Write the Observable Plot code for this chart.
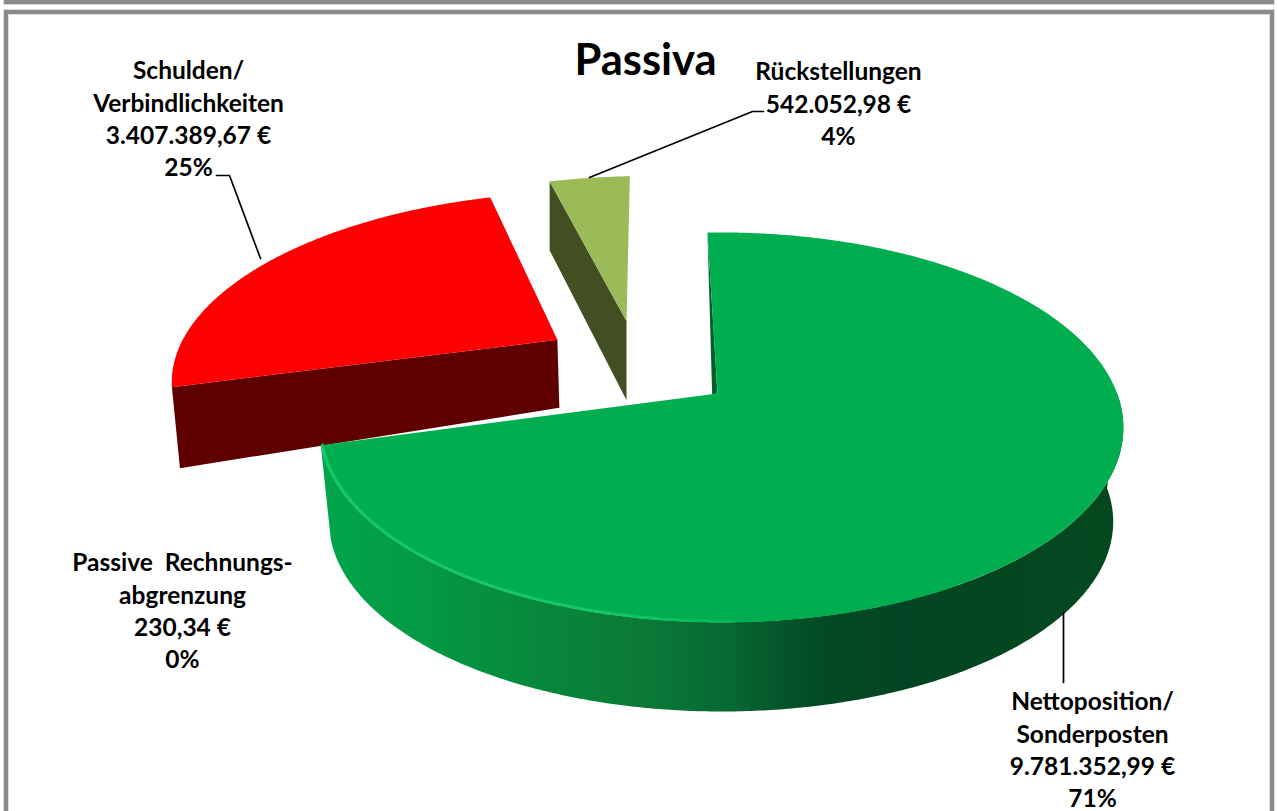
<!DOCTYPE html>
<html lang="de">
<head>
<meta charset="utf-8">
<style>html,body{margin:0;padding:0;background:#fff;overflow:hidden}</style>
<script src="https://cdn.jsdelivr.net/npm/d3@7"></script>
<script src="https://cdn.jsdelivr.net/npm/@observablehq/plot@0.6"></script>
</head>
<body>
<div id="chart"></div>
<script>
// ---- data, in pie order (clockwise from the top)
const names = ["Nettoposition/\nSonderposten", "Passive\u00a0 Rechnungs-\nabgrenzung", "Schulden/\nVerbindlichkeiten", "Rückstellungen"];
const amounts = [9781352.99, 230.34, 3407389.67, 542052.98];
const titleText = "Passiva";

// ---- styles
const topColors = ["#00ae50", "#00ae50", "#ff0000", "#9bbb59"];
const sideColors = ["url(#greenSide)", "#00602d", "#5f0000", "#414f22"];
const sideStops = [[0, "#00a64c"], [0.12, "#049a44"], [0.27, "#07883c"], [0.4, "#0a7a37"], [0.5, "#066a33"], [0.62, "#034a25"], [0.72, "#034522"], [1, "#03491f"]];

// ---- perspective of the tilted disc
const view = {cx: 717, cy: 393, rx: 396, ry: 189, k: 0.1736, h: -0.0091, start: -1.7};
const explode = [[0, 0], [0, 0], [-0.427, 0.3], [-0.2466, 0.41]];
const radius = [1, 1, 1.012, 1.03];
// wall offsets [apex, rim] for the two exploded wedges
const walls = {2: [[2, 68], [8, 81]], 3: [[0, 79], [0, 69]]};
const greenWall = {scale: 0.975, drop: 95};

function project(u, v) {
  const w = 1 + view.k * v + view.h * u;
  return {x: view.cx + view.rx * u / w, y: view.cy - view.ry * v / w};
}
const rad = (d) => d * Math.PI / 180;
const total = d3.sum(amounts);
let acc = view.start;
const wedges = amounts.map((a, i) => {
  const a0 = acc, a1 = acc + a / total * 360;
  acc = a1;
  return {i, a0, a1};
});
function rim(w, a0, a1, f = 1) {
  const [du, dv] = explode[w.i];
  const r = radius[w.i] * f;
  const n = Math.max(2, Math.ceil(Math.abs(a1 - a0) * 2));
  return d3.range(n + 1).map((j) => {
    const a = rad(a0 + (a1 - a0) * j / n);
    return project(du + r * Math.sin(a), dv + r * Math.cos(a));
  });
}
const apex = (w) => project(...explode[w.i]);

const [green, , red, olive] = wedges;

// green: wall along the front of the rim, gradient-filled
const dropPoint = (p) => ({x: view.cx + (p.x - view.cx) * greenWall.scale, y: view.cy + (p.y - view.cy) * greenWall.scale + greenWall.drop});
const greenFront = rim(green, 90, green.a1);
const greenWallPts = [...greenFront, ...greenFront.slice().reverse().map(dropPoint)];
const greenTop = [apex(green), ...rim(green, green.a0, green.a1)];
const greenEnd = greenFront[greenFront.length - 1];
const greenA = apex(green);
const greenSliver = [rim(green, green.a0, green.a0 + 1)[0], greenA, {x: greenA.x + (greenEnd.x - greenA.x) * 0.0135, y: greenA.y + (greenEnd.y - greenA.y) * 0.0135}];
const greenHighlight = rim(green, green.a1, 150, 0.996);

function wedgeTop(w) { return [apex(w), ...rim(w, w.a0, w.a1)]; }
function wedgeWall(w, rimPoint) {
  const a = apex(w), [oa, or] = walls[w.i];
  return [a, rimPoint, {x: rimPoint.x + or[0], y: rimPoint.y + or[1]}, {x: a.x + oa[0], y: a.y + oa[1]}];
}
const redWall = wedgeWall(red, rim(red, red.a0, red.a0 + 1)[0]);
const oliveWall = wedgeWall(olive, rim(olive, olive.a0, olive.a0 + 1)[0]);

// ---- annotations
const fmt = (v) => v.toLocaleString("de-DE", {minimumFractionDigits: 2, maximumFractionDigits: 2}) + " €";
const labelText = (i) => `${names[i]}\n${fmt(amounts[i])}\n${Math.round(amounts[i] / total * 100)}%`;
const labelX = [1092, 182, 188, 838];
const labelY = [687, 548, 56, 57];
const labels = amounts.map((_, i) => ({x: labelX[i], y: labelY[i], text: labelText(i)}));
const leaders = [
  [{x: 1063, y: 612}, {x: 1063, y: 682}],
  [{x: 216, y: 175}, {x: 229, y: 175}, {x: 260, y: 258}],
  [{x: 763, y: 111}, {x: 752, y: 111}, {x: 589, y: 177}]
];
const frames = [{x1: 6, x2: 1272, y1: 12, y2: 860}, {x1: 6, x2: 1272, y1: -40, y2: 2}];

// ---- gradients
function defs() {
  const d = d3.create("svg:defs");
  const side = d.append("linearGradient").attr("id", "greenSide").attr("gradientUnits", "userSpaceOnUse")
    .attr("x1", 320).attr("x2", 1123).attr("y1", 0).attr("y2", 0);
  sideStops.forEach(([o, c]) => side.append("stop").attr("offset", o).attr("stop-color", c));
  const hl = d.append("linearGradient").attr("id", "greenRim").attr("gradientUnits", "userSpaceOnUse")
    .attr("x1", 320).attr("x2", 760).attr("y1", 0).attr("y2", 0);
  [[0, "#14c867"], [0.7, "#14c867"], [1, "#00ae50"]].forEach(([o, c]) => hl.append("stop").attr("offset", o).attr("stop-color", c));
  return d.node();
}
const face = (pts, fill) => Plot.line(pts, {x: "x", y: "y", fill, stroke: "none"});

const chart = Plot.plot({
  width: 1277, height: 811,
  marginTop: 0, marginRight: 0, marginBottom: 0, marginLeft: 0,
  x: {domain: [0, 1277], range: [0, 1277], axis: null},
  y: {domain: [0, 811], range: [0, 811], axis: null},
  style: {background: "white", fontFamily: "Lato"},
  marks: [
    defs,
    Plot.rect(frames, {x1: "x1", x2: "x2", y1: "y1", y2: "y2", stroke: "#dcdcdc", strokeWidth: 6, fill: "none"}),
    Plot.rect(frames, {x1: "x1", x2: "x2", y1: "y1", y2: "y2", stroke: "#8b8b8b", strokeWidth: 4, fill: "none"}),
    face(redWall, sideColors[2]),
    face(wedgeTop(red), topColors[2]),
    face(oliveWall, sideColors[3]),
    face(wedgeTop(olive), topColors[3]),
    face(greenWallPts, sideColors[0]),
    face(greenSliver, sideColors[1]),
    face(greenTop, topColors[0]),
    Plot.line(greenHighlight, {x: "x", y: "y", stroke: "url(#greenRim)", strokeWidth: 2.8}),
    ...leaders.map((l) => Plot.line(l, {x: "x", y: "y", stroke: "black", strokeWidth: 1.7})),
    Plot.text(labels, {x: "x", y: "y", text: "text", lineAnchor: "top", lineHeight: 1.32, fontSize: 24.5, fontWeight: 700, fill: "black"}),
    Plot.text([titleText], {x: () => 645, y: () => 61, fontSize: 43.5, fontWeight: 700, fill: "black"})
  ]
});
document.getElementById("chart").append(chart);
</script>
</body>
</html>
